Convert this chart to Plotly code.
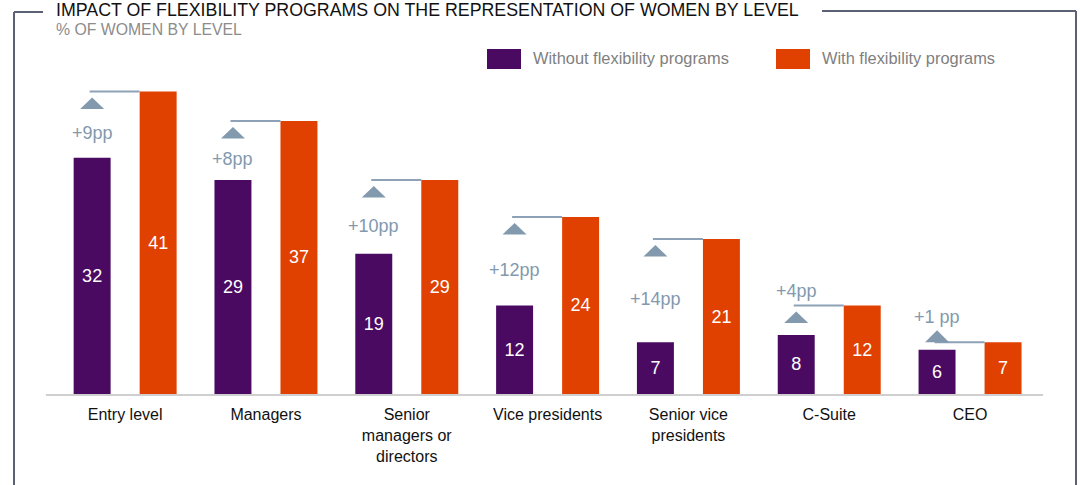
import plotly.graph_objects as go

# ---- data -------------------------------------------------------------
categories = [
    "Entry level",
    "Managers",
    "Senior<br>managers or<br>directors",
    "Vice presidents",
    "Senior vice<br>presidents",
    "C-Suite",
    "CEO",
]
without_programs = [32, 29, 19, 12, 7, 8, 6]
with_programs = [41, 37, 29, 24, 21, 12, 7]
gain_labels = ["+9pp", "+8pp", "+10pp", "+12pp", "+14pp", "+4pp", "+1 pp"]

title_text = "IMPACT OF FLEXIBILITY PROGRAMS ON THE REPRESENTATION OF WOMEN BY LEVEL"
subtitle_text = "% OF WOMEN BY LEVEL"
series_names = ["Without flexibility programs", "With flexibility programs"]

# ---- styling / layout constants -----------------------------------------
PURPLE = "#4a0a62"
ORANGE = "#e04000"
FRAME = "#5b6074"
ACCENT = "#8299ae"
ACCENT_LINE = "#8da2b6"
FONT = "Liberation Sans, Arial, Helvetica, sans-serif"

W, H = 1080, 485
M_L, M_R, M_T, M_B = 46, 37, 66, 91
PLOT_W = W - M_L - M_R
PLOT_H = H - M_T - M_B
Y_MAX = 44.45
X_RANGE = [-0.562, 6.518]
BARGAP, BARGROUPGAP = 0.0625, 0.44

slot = (1 - BARGAP) / 2            # width of one bar slot (category units)
bar_w = slot * (1 - BARGROUPGAP)   # drawn bar width (category units)
px_per_cat = PLOT_W / (X_RANGE[1] - X_RANGE[0])
px_per_unit = PLOT_H / Y_MAX


def paper_x(px):
    return (px - M_L) / PLOT_W


def paper_y(py):
    return (H - M_B - py) / PLOT_H


fig = go.Figure()
fig.add_trace(go.Bar(
    x=categories, y=without_programs, name=series_names[0],
    marker=dict(color=PURPLE, line=dict(width=0)),
    text=without_programs, textposition="inside", insidetextanchor="middle",
    textangle=0, textfont=dict(color="white", size=18, family=FONT),
    hoverinfo="skip",
))
fig.add_trace(go.Bar(
    x=categories, y=with_programs, name=series_names[1],
    marker=dict(color=ORANGE, line=dict(width=0)),
    text=with_programs, textposition="inside", insidetextanchor="middle",
    textangle=0, textfont=dict(color="white", size=18, family=FONT),
    hoverinfo="skip",
))

shapes = []
annotations = []

# gain markers: connector at the higher bar, arrow and gain text above the lower bar
for i, (lo, hi, lab) in enumerate(zip(without_programs, with_programs, gain_labels)):
    left_center = i - slot / 2
    right_edge = i + slot / 2 - bar_w / 2
    shapes.append(dict(
        type="line", xref="x", yref="y",
        x0=left_center - 2.5 / px_per_cat, x1=right_edge, y0=hi, y1=hi,
        line=dict(color=ACCENT_LINE, width=2), layer="above",
    ))
    gap_px = (hi - lo) * px_per_unit
    if gap_px >= 21:
        tri = "M-12,-17.5 L12,-17.5 L0,-6 Z"
    else:
        tri = "M-12,0 L12,0 L0,12 Z"
    shapes.append(dict(
        type="path", xref="x", yref="y",
        xsizemode="pixel", ysizemode="pixel",
        xanchor=left_center, yanchor=hi, path=tri,
        fillcolor=ACCENT, line=dict(width=0), layer="above",
    ))
    if gap_px >= 45:
        ann_y, shift = (hi + lo) / 2, -8.75
    elif gap_px >= 21:
        ann_y, shift = hi, 14
    else:
        ann_y, shift = hi, 25
    annotations.append(dict(
        x=left_center, y=ann_y, xref="x", yref="y", yshift=shift,
        text=lab, showarrow=False, xanchor="center", yanchor="middle",
        font=dict(size=18, color=ACCENT, family=FONT),
    ))

# outer frame broken by the title
frame_lines = [
    (14, 12, 43, 12),
    (14, 12, 14, 490),
    (822, 11, 1076, 11),
    (1076, 11, 1076, 490),
]
for x0, y0, x1, y1 in frame_lines:
    shapes.append(dict(
        type="line", xref="paper", yref="paper",
        x0=paper_x(x0), y0=paper_y(y0), x1=paper_x(x1), y1=paper_y(y1),
        line=dict(color=FRAME, width=2),
    ))

annotations.append(dict(
    xref="paper", yref="paper", x=paper_x(54), y=paper_y(10),
    xanchor="left", yanchor="middle", showarrow=False, text=title_text,
    font=dict(size=17.8, color="#111111", family=FONT),
))
annotations.append(dict(
    xref="paper", yref="paper", x=paper_x(54), y=paper_y(29),
    xanchor="left", yanchor="middle", showarrow=False, text=subtitle_text,
    font=dict(size=15.8, color="#8c8c8c", family=FONT),
))

# legend swatches and labels
legend_items = [(487, PURPLE, series_names[0]), (776, ORANGE, series_names[1])]
for x_px, color, name in legend_items:
    shapes.append(dict(
        type="rect", xref="paper", yref="paper",
        x0=paper_x(x_px), x1=paper_x(x_px + 34), y0=paper_y(69), y1=paper_y(49),
        fillcolor=color, line=dict(width=0),
    ))
    annotations.append(dict(
        xref="paper", yref="paper", x=paper_x(x_px + 44), y=paper_y(58),
        xanchor="left", yanchor="middle", showarrow=False, text=name,
        font=dict(size=16.4, color="#7f7f7f", family=FONT),
    ))

fig.update_layout(
    width=W, height=H,
    margin=dict(l=M_L, r=M_R, t=M_T, b=M_B, pad=0),
    paper_bgcolor="white", plot_bgcolor="white",
    barmode="group", bargap=BARGAP, bargroupgap=BARGROUPGAP,
    showlegend=False,
    font=dict(family=FONT),
    shapes=shapes, annotations=annotations,
    xaxis=dict(
        range=X_RANGE, showgrid=False, zeroline=False,
        showline=True, linecolor="#cfcfcf", linewidth=2,
        ticks="", ticklabelstandoff=5,
        tickfont=dict(size=16, color="#111111", family=FONT),
        fixedrange=True,
    ),
    yaxis=dict(
        range=[0, Y_MAX], visible=False, showgrid=False, zeroline=False,
        fixedrange=True,
    ),
)

fig.write_html("out.html", config={"displayModeBar": False})
